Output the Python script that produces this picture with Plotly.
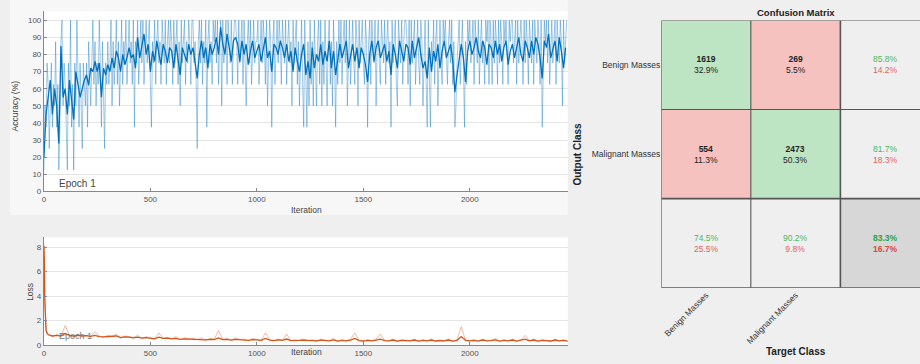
import plotly.graph_objects as go

W, H = 920, 364
FONT = "Liberation Sans, Arial, sans-serif"

# ---------------- data ----------------
# raw mini-batch accuracy, as number correct out of 8, every 5 iterations
batch_size = 8
acc_raw_step = 5
acc_raw_correct = [
    1, 4, 3, 6, 5, 2, 4, 6, 3, 5, 4, 7, 3, 5, 1, 3, 7, 8, 4, 6,
    5, 3, 1, 6, 4, 8, 3, 5, 1, 6, 4, 8, 5, 3, 6, 4, 2, 6, 5, 4,
    6, 3, 7, 5, 4, 6, 8, 5, 7, 4, 6, 5, 8, 6, 3, 7, 5, 2, 6, 5,
    7, 5, 6, 8, 4, 7, 5, 6, 8, 5, 7, 4, 6, 8, 5, 7, 6, 8, 5, 7,
    8, 6, 7, 5, 8, 3, 7, 6, 8, 5, 7, 8, 6, 8, 5, 7, 8, 6, 7, 8,
    5, 3, 7, 6, 8, 5, 7, 8, 6, 7, 5, 8, 7, 6, 8, 5, 7, 8, 6, 8,
    7, 5, 8, 6, 7, 8, 5, 7, 4, 8, 6, 7, 8, 5, 7, 6, 8, 7, 5, 8,
    8, 6, 7, 5, 2, 7, 8, 6, 8, 5, 7, 6, 8, 3, 7, 8, 6, 7, 5, 8,
    7, 8, 6, 8, 5, 7, 8, 4, 8, 6, 7, 8, 5, 8, 7, 6, 8, 5, 7, 8,
    8, 7, 5, 8, 6, 7, 8, 5, 8, 6, 4, 7, 8, 6, 8, 5, 7, 8, 6, 7,
    7, 8, 5, 7, 8, 6, 8, 7, 5, 8, 4, 6, 8, 7, 3, 7, 8, 5, 7, 8,
    6, 8, 7, 5, 8, 7, 6, 8, 5, 7, 8, 6, 7, 4, 8, 6, 7, 8, 5, 7,
    4, 7, 8, 5, 3, 8, 6, 3, 7, 4, 8, 5, 7, 4, 8, 6, 4, 7, 8, 5,
    8, 4, 7, 5, 8, 6, 4, 7, 8, 5, 7, 4, 8, 6, 3, 7, 5, 8, 6, 8,
    5, 7, 8, 6, 8, 4, 7, 8, 5, 7, 8, 6, 5, 8, 7, 4, 8, 6, 7, 8,
    6, 5, 8, 7, 3, 7, 8, 5, 8, 7, 6, 8, 4, 7, 8, 6, 5, 8, 7, 6,
    8, 5, 7, 8, 6, 7, 3, 8, 6, 7, 8, 5, 4, 8, 7, 6, 8, 5, 7, 8,
    8, 7, 5, 8, 4, 8, 6, 7, 8, 5, 7, 8, 6, 5, 8, 7, 4, 6, 8, 5,
    3, 8, 6, 3, 7, 6, 8, 5, 7, 8, 4, 7, 8, 6, 5, 8, 7, 8, 6, 5,
    7, 8, 6, 8, 5, 7, 3, 4, 6, 7, 8, 5, 7, 8, 6, 3, 7, 5, 8, 7,
    8, 6, 7, 8, 5, 8, 7, 6, 8, 5, 7, 8, 6, 7, 5, 8, 7, 8, 5, 8,
    7, 5, 8, 6, 8, 7, 5, 8, 6, 8, 7, 5, 8, 7, 8, 6, 5, 8, 7, 8,
    8, 6, 7, 8, 5, 8, 6, 7, 8, 7, 5, 8, 6, 8, 7, 5, 8, 7, 6, 8,
    5, 8, 7, 6, 8, 7, 5, 8, 3, 6, 8, 7, 8, 6, 8, 5, 7, 8, 6, 7,
    8, 5, 8, 7, 6, 8, 7, 4, 8, 6, 7, 8,
]
acc_smooth_step = 10
acc_smooth = [
    20, 45, 55, 65, 45, 60, 50, 28, 85, 55,
    60, 45, 65, 55, 42, 70, 62, 55, 60, 65,
    68, 62, 72, 70, 76, 70, 75, 55, 72, 68,
    74, 70, 78, 72, 82, 78, 70, 80, 74, 78,
    84, 78, 80, 72, 90, 78, 85, 92, 80, 86,
    70, 82, 76, 88, 80, 74, 86, 82, 75, 84,
    82, 72, 86, 78, 68, 84, 80, 76, 86, 80,
    84, 74, 66, 80, 88, 78, 84, 72, 86, 80,
    84, 90, 80, 96, 86, 80, 92, 84, 76, 88,
    90, 86, 76, 88, 80, 86, 74, 82, 88, 78,
    82, 86, 76, 84, 90, 78, 82, 70, 86, 84,
    80, 88, 84, 78, 86, 76, 82, 70, 84, 76,
    70, 80, 86, 68, 76, 66, 84, 72, 80, 76,
    86, 74, 82, 76, 88, 72, 82, 68, 78, 86,
    78, 84, 88, 72, 80, 86, 76, 84, 72, 84,
    80, 74, 64, 80, 88, 76, 84, 88, 78, 82,
    86, 76, 82, 68, 86, 80, 72, 88, 82, 76,
    86, 84, 74, 88, 78, 84, 90, 80, 72, 76,
    66, 84, 70, 82, 76, 86, 72, 82, 88, 78,
    82, 86, 76, 58, 68, 76, 86, 78, 64, 82,
    88, 80, 84, 90, 82, 78, 88, 84, 74, 86,
    84, 78, 88, 80, 86, 76, 84, 88, 74, 82,
    86, 78, 84, 90, 80, 76, 88, 84, 78, 88,
    80, 90, 86, 78, 66, 88, 84, 92, 78, 84,
    88, 76, 90, 82, 72, 84,
]

loss_head_iter = [0, 2, 4, 7, 10, 14]
loss_raw_head = [8.1, 7.2, 4.0, 1.8, 1.3, 1.1]
loss_smooth_head = [8.1, 7.0, 3.8, 1.6, 1.2, 1.0]
loss_start, loss_step = 20, 20
loss_raw = [
    0.9, 0.7, 0.85, 0.75, 1.6, 0.8, 0.7, 0.9, 0.75, 0.8,
    0.7, 1.1, 0.75, 0.65, 0.8, 0.7, 0.9, 0.6, 0.75, 0.7,
    0.6, 0.8, 0.55, 0.7, 0.6, 0.5, 1.0, 0.55, 0.65, 0.5,
    0.7, 0.45, 0.6, 0.5, 0.55, 0.45, 0.6, 0.4, 0.55, 0.5,
    1.2, 0.45, 0.55, 0.4, 0.6, 0.45, 0.5, 0.35, 0.55, 0.45,
    0.4, 1.0, 0.45, 0.35, 0.5, 0.4, 0.9, 0.35, 0.45, 0.4,
    0.5, 0.35, 0.45, 0.3, 0.5, 0.4, 0.35, 0.55, 0.3, 0.45,
    0.35, 0.5, 1.0, 0.4, 0.3, 0.45, 0.35, 0.5, 0.9, 0.4,
    0.35, 0.5, 0.3, 0.45, 0.4, 0.35, 0.5, 0.3, 0.45, 0.35,
    0.5, 0.3, 0.4, 0.35, 0.5, 0.3, 0.45, 1.5, 0.4, 0.35,
    0.45, 0.3, 0.5, 0.35, 0.4, 0.55, 0.3, 0.45, 0.35, 0.5,
    0.3, 0.45, 0.8, 0.35, 0.5, 0.3, 0.45, 0.4, 0.3, 0.5,
    0.35, 0.45, 0.3,
]
loss_smooth = [
    0.85, 0.75, 0.8, 0.75, 0.95, 0.8, 0.75, 0.8, 0.75, 0.78,
    0.72, 0.8, 0.7, 0.68, 0.72, 0.7, 0.75, 0.62, 0.68, 0.66,
    0.6, 0.65, 0.58, 0.62, 0.58, 0.52, 0.65, 0.55, 0.58, 0.52,
    0.55, 0.48, 0.52, 0.5, 0.5, 0.46, 0.5, 0.44, 0.48, 0.46,
    0.6, 0.46, 0.48, 0.42, 0.48, 0.44, 0.45, 0.4, 0.46, 0.42,
    0.4, 0.55, 0.42, 0.38, 0.44, 0.4, 0.5, 0.38, 0.42, 0.4,
    0.42, 0.38, 0.4, 0.35, 0.42, 0.38, 0.36, 0.44, 0.34, 0.4,
    0.36, 0.42, 0.55, 0.38, 0.34, 0.4, 0.36, 0.42, 0.5, 0.38,
    0.36, 0.42, 0.34, 0.4, 0.38, 0.36, 0.42, 0.33, 0.4, 0.36,
    0.42, 0.34, 0.38, 0.36, 0.42, 0.34, 0.4, 0.7, 0.4, 0.36,
    0.4, 0.34, 0.42, 0.36, 0.38, 0.44, 0.34, 0.4, 0.36, 0.42,
    0.34, 0.4, 0.5, 0.36, 0.42, 0.34, 0.4, 0.38, 0.34, 0.42,
    0.36, 0.4, 0.34,
]

iter_ticks = [0, 500, 1000, 1500, 2000]
acc_ticks = [0, 10, 20, 30, 40, 50, 60, 70, 80, 90, 100]
loss_ticks = [0, 2, 4, 6, 8]

classes = ["Benign Masses", "Malignant Masses"]
cm_counts = [[1619, 269], [554, 2473]]
cm_pct = [["32.9%", "5.5%"], ["11.3%", "50.3%"]]
row_good = ["85.8%", "81.7%"]
row_bad = ["14.2%", "18.3%"]
col_good = ["74.5%", "90.2%"]
col_bad = ["25.5%", "9.8%"]
total_good, total_bad = "83.3%", "16.7%"

# ---------------- helpers ----------------
def px_x(p):
    return p / W

def px_y(p):
    return (H - p) / H

ACC_RAW_X = [i * acc_raw_step for i in range(len(acc_raw_correct))]
ACC_RAW_Y = [c * 100 / batch_size for c in acc_raw_correct]
ACC_SM_X = [i * acc_smooth_step for i in range(len(acc_smooth))]
LOSS_X = loss_head_iter + [loss_start + i * loss_step for i in range(len(loss_raw))]

fig = go.Figure()

fig.add_trace(go.Scatter(x=ACC_RAW_X, y=ACC_RAW_Y, mode="lines", xaxis="x", yaxis="y",
                         line=dict(color="rgba(0,114,189,0.38)", width=1), hoverinfo="skip"))
fig.add_trace(go.Scatter(x=ACC_SM_X, y=acc_smooth, mode="lines", xaxis="x", yaxis="y",
                         line=dict(color="#0072bd", width=1.3), hoverinfo="skip"))
fig.add_trace(go.Scatter(x=LOSS_X, y=loss_raw_head + loss_raw, mode="lines", xaxis="x2", yaxis="y2",
                         line=dict(color="rgba(217,83,25,0.4)", width=1), hoverinfo="skip"))
fig.add_trace(go.Scatter(x=LOSS_X, y=loss_smooth_head + loss_smooth, mode="lines", xaxis="x2", yaxis="y2",
                         line=dict(color="#d95319", width=1.3), hoverinfo="skip"))

# confusion matrix cells: 0 summary, 1 correct, 2 wrong, 3 overall
n = len(classes)
codes = []
for r in range(n + 1):
    row = []
    for c in range(n + 1):
        if r == n and c == n:
            row.append(3)
        elif r == n or c == n:
            row.append(0)
        elif r == c:
            row.append(1)
        else:
            row.append(2)
    codes.append(row)

fig.add_trace(go.Heatmap(
    z=codes, x=list(range(n + 1)), y=list(range(n + 1)), xaxis="x3", yaxis="y3",
    zmin=0, zmax=3, showscale=False, hoverinfo="skip",
    colorscale=[[0, "#efefef"], [1 / 3, "#bde5c3"], [2 / 3, "#f5c2bf"], [1, "#d7d7d7"]],
))

GREEN, RED = "#4fb561", "#e0645a"
annotations = []
for r in range(n):
    for c in range(n):
        annotations.append(dict(
            x=c, y=r, xref="x3", yref="y3", showarrow=False,
            text=f"<b>{cm_counts[r][c]}</b><br>{cm_pct[r][c]}",
            font=dict(family=FONT, size=8.5, color="#222")))
    annotations.append(dict(
        x=n, y=r, xref="x3", yref="y3", showarrow=False,
        text=f"<span style='color:{GREEN}'>{row_good[r]}</span><br><span style='color:{RED}'>{row_bad[r]}</span>",
        font=dict(family=FONT, size=8.5)))
for c in range(n):
    annotations.append(dict(
        x=c, y=n, xref="x3", yref="y3", showarrow=False,
        text=f"<span style='color:{GREEN}'>{col_good[c]}</span><br><span style='color:{RED}'>{col_bad[c]}</span>",
        font=dict(family=FONT, size=8.5)))
annotations.append(dict(
    x=n, y=n, xref="x3", yref="y3", showarrow=False,
    text=f"<b><span style='color:#2f9e45'>{total_good}</span><br><span style='color:#d8463c'>{total_bad}</span></b>",
    font=dict(family=FONT, size=8.5)))

def label(x, y, text, size=8.5, color="#444", angle=0, xref="paper", xanchor="center"):
    return dict(x=x, y=y, xref=xref, yref="paper", text=text, showarrow=False, textangle=angle,
                xanchor=xanchor, yanchor="middle", font=dict(family=FONT, size=size, color=color))

annotations += [
    label(1, px_y(13), "<b>Confusion Matrix</b>", 9.5, "#222", xref="x3"),
    label(px_x(577), px_y(156), "<b>Output Class</b>", 10, "#222", -90),
    label(1, px_y(356), "<b>Target Class</b>", 10, "#222", xref="x3"),
    label(px_x(13), px_y(107), "Accuracy (%)", 8.5, "#444", -90),
    label(px_x(305), px_y(213), "Iteration"),
    label(px_x(28), px_y(296), "Loss", 8.5, "#444", -90),
    label(px_x(305), px_y(357), "Iteration"),
    label(px_x(55), px_y(186), "Epoch 1", 10, "#444", xanchor="left"),
    label(px_x(55), px_y(341), "Epoch 1", 9, "#777", xanchor="left"),
]

PANEL = "#f7f7f7"
shapes = [
    dict(type="rect", xref="paper", yref="paper", x0=px_x(8), x1=px_x(42), y0=px_y(218), y1=1,
         fillcolor=PANEL, line=dict(width=0), layer="below"),
    dict(type="rect", xref="paper", yref="paper", x0=px_x(42), x1=px_x(567), y0=px_y(11), y1=1,
         fillcolor=PANEL, line=dict(width=0), layer="below"),
    dict(type="rect", xref="paper", yref="paper", x0=px_x(42), x1=px_x(567), y0=px_y(218), y1=px_y(194),
         fillcolor=PANEL, line=dict(width=0), layer="below"),
]
for k in range(n + 2):
    w = 1.6 if k in (n, n + 1) else 1.1
    shapes.append(dict(type="line", xref="x3", yref="y3", x0=k - 0.5, x1=k - 0.5, y0=-0.5, y1=n + 0.5,
                       line=dict(color="#555", width=w), layer="above"))
    shapes.append(dict(type="line", xref="x3", yref="y3", x0=-0.5, x1=n + 0.5, y0=k - 0.5, y1=k - 0.5,
                       line=dict(color="#555", width=w), layer="above"))

tickfont = dict(family=FONT, size=8, color="#555")
common_x = dict(range=[0, 2460], tickvals=iter_ticks, ticks="inside", ticklen=3, tickcolor="#888",
                showgrid=False, zeroline=False, showline=True, linecolor="#888", linewidth=1,
                tickfont=tickfont)
common_y = dict(ticks="inside", ticklen=3, tickcolor="#888", showgrid=True, gridcolor="#e6e6e6",
                zeroline=False, showline=True, linecolor="#888", linewidth=1, tickfont=tickfont)

fig.update_layout(
    width=W, height=H, margin=dict(l=0, r=0, t=0, b=0),
    paper_bgcolor="#efefef", plot_bgcolor="white", showlegend=False,
    font=dict(family=FONT),
    xaxis=dict(domain=[px_x(42), px_x(567)], anchor="y", **common_x),
    yaxis=dict(domain=[px_y(194), px_y(11)], anchor="x", range=[0, 105.5], tickvals=acc_ticks, **common_y),
    xaxis2=dict(domain=[px_x(42), px_x(567)], anchor="y2", **common_x),
    yaxis2=dict(domain=[px_y(350), px_y(240.5)], anchor="x2", range=[0, 8.8], tickvals=loss_ticks, **common_y),
    xaxis3=dict(domain=[px_x(660.7), 1], anchor="y3", range=[-0.5, n + 0.5 - 10 / 90],
                tickvals=list(range(n)), ticktext=classes, tickangle=-45, ticks="", showgrid=False,
                zeroline=False, showline=False, tickfont=dict(family=FONT, size=8.5, color="#333")),
    yaxis3=dict(domain=[px_y(291.7), px_y(20.7)], anchor="x3", range=[n + 0.5, -0.5],
                tickvals=list(range(n)), ticktext=classes, ticks="", showgrid=False,
                zeroline=False, showline=False, tickfont=dict(family=FONT, size=8.5, color="#333")),
    annotations=annotations, shapes=shapes,
)

fig.write_html("out.html", config={"displayModeBar": False},
               post_script="document.body.style.margin='0';document.body.style.overflow='hidden';")
